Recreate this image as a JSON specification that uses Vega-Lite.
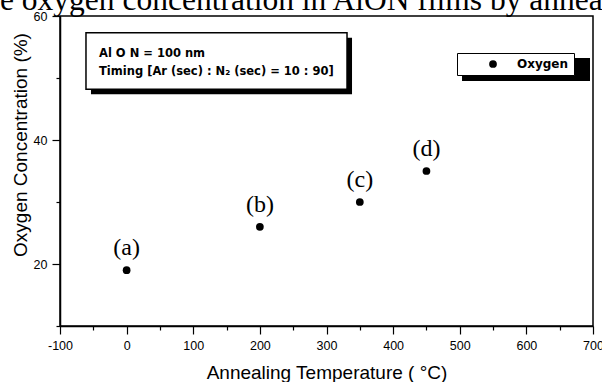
{
  "$schema": "https://vega.github.io/schema/vega-lite/v6.json",
  "width": 533,
  "height": 310,
  "autosize": {"type": "none"},
  "padding": {"left": 60, "top": 16, "right": 9, "bottom": 56},
  "background": "white",
  "title": {
    "text": "e oxygen concentration in AlON films by annea",
    "font": "Liberation Serif",
    "fontSize": 31.5,
    "fontWeight": "normal",
    "color": "black",
    "anchor": "start",
    "frame": "group",
    "dx": -60,
    "baseline": "alphabetic",
    "offset": -31,
    "limit": 2000
  },
  "config": {
    "view": {"stroke": "black", "strokeWidth": 1.5},
    "axis": {
      "labelFont": "Liberation Sans",
      "labelFontSize": 12.5,
      "labelColor": "black",
      "titleFont": "Liberation Sans",
      "titleFontSize": 19,
      "titleFontWeight": "normal",
      "titleColor": "black",
      "domainColor": "black",
      "domainWidth": 1.5,
      "tickColor": "black",
      "tickWidth": 1.2,
      "grid": false,
      "labelFlush": false
    }
  },
  "data": {
    "values": [
      {"temperature": 0, "oxygen": 19, "label": "(a)", "series": "Oxygen"},
      {"temperature": 200, "oxygen": 26, "label": "(b)", "series": "Oxygen"},
      {"temperature": 350, "oxygen": 30, "label": "(c)", "series": "Oxygen"},
      {"temperature": 450, "oxygen": 35, "label": "(d)", "series": "Oxygen"}
    ]
  },
  "layer": [
    {
      "data": {"values": [{}]},
      "mark": {"type": "rect", "fill": "black", "xOffset": 5, "x2Offset": 5, "yOffset": 5, "y2Offset": 5},
      "encoding": {
        "x": {"datum": -61, "type": "quantitative", "axis": null, "scale": {"domain": [-100, 700], "nice": false, "zero": false}},
        "x2": {"datum": 330.8},
        "y": {"datum": 57.31, "type": "quantitative", "axis": null, "scale": {"domain": [10, 60], "nice": false, "zero": false}},
        "y2": {"datum": 48.18}
      }
    },
    {
      "data": {"values": [{}]},
      "mark": {"type": "rect", "fill": "white", "stroke": "black", "strokeWidth": 1.5},
      "encoding": {
        "x": {"datum": -61, "type": "quantitative", "axis": null, "scale": {"domain": [-100, 700], "nice": false, "zero": false}},
        "x2": {"datum": 330.8},
        "y": {"datum": 57.31, "type": "quantitative", "axis": null, "scale": {"domain": [10, 60], "nice": false, "zero": false}},
        "y2": {"datum": 48.18}
      }
    },
    {
      "data": {"values": [{}]},
      "mark": {
        "type": "text",
        "text": ["Al O N = 100 nm", "Timing [Ar (sec) : N₂ (sec) = 10 : 90]"],
        "font": "DejaVu Sans",
        "fontWeight": "bold",
        "fontSize": 11.5,
        "lineHeight": 18,
        "align": "left",
        "baseline": "alphabetic",
        "color": "black"
      },
      "encoding": {
        "x": {"datum": -41.46, "type": "quantitative", "axis": null, "scale": {"domain": [-100, 700], "nice": false, "zero": false}},
        "y": {"datum": 53.39, "type": "quantitative", "axis": null, "scale": {"domain": [10, 60], "nice": false, "zero": false}}
      }
    },
    {
      "data": {"values": [{}]},
      "mark": {"type": "rect", "fill": "black", "xOffset": 5, "x2Offset": 5, "yOffset": 5, "y2Offset": 5},
      "encoding": {
        "x": {"datum": 495.9, "type": "quantitative", "axis": null, "scale": {"domain": [-100, 700], "nice": false, "zero": false}},
        "x2": {"datum": 688},
        "y": {"datum": 54.03, "type": "quantitative", "axis": null, "scale": {"domain": [10, 60], "nice": false, "zero": false}},
        "y2": {"datum": 50.32}
      }
    },
    {
      "mark": {"type": "point", "filled": true, "size": 60, "opacity": 1},
      "encoding": {
        "x": {
          "field": "temperature",
          "type": "quantitative",
          "scale": {"domain": [-100, 700], "nice": false, "zero": false},
          "axis": {
            "orient": "bottom",
            "values": [-100, 0, 100, 200, 300, 400, 500, 600, 700],
            "labelExpr": "datum.value + ''",
            "tickSize": 8,
            "labelPadding": 5,
            "title": "Annealing Temperature ( °C)",
            "titlePadding": 12
          }
        },
        "y": {
          "field": "oxygen",
          "type": "quantitative",
          "scale": {"domain": [10, 60], "nice": false, "zero": false},
          "axis": {
            "orient": "left",
            "values": [20, 40, 60],
            "tickSize": 8,
            "labelPadding": 5,
            "title": "Oxygen Concentration (%)",
            "titlePadding": 3,
            "titleY": 128.5
          }
        },
        "color": {
          "field": "series",
          "type": "nominal",
          "scale": {"range": ["black"]},
          "legend": {
            "orient": "none",
            "legendX": 397,
            "legendY": 37,
            "title": null,
            "fillColor": "white",
            "strokeColor": "black",
            "padding": 5,
            "symbolType": "circle",
            "symbolSize": 60,
            "symbolFillColor": "black",
            "symbolStrokeWidth": 0,
            "symbolOffset": 25,
            "labelOffset": 18,
            "labelFont": "DejaVu Sans",
            "labelFontWeight": "bold",
            "labelFontSize": 12,
            "labelColor": "black",
            "labelExpr": "datum.label + '    '",
            "encode": {"legend": {"update": {"strokeWidth": {"value": 1.5}}}}
          }
        }
      }
    },
    {
      "mark": {"type": "text", "font": "Liberation Serif", "fontSize": 24, "dy": -15, "baseline": "alphabetic", "align": "center", "color": "black"},
      "encoding": {
        "x": {
          "field": "temperature",
          "type": "quantitative",
          "scale": {"domain": [-100, 700], "nice": false, "zero": false},
          "axis": {
            "orient": "bottom",
            "values": [-50, 50, 150, 250, 350, 450, 550, 650],
            "labels": false,
            "tickSize": 4,
            "domain": false,
            "title": null
          }
        },
        "y": {
          "field": "oxygen",
          "type": "quantitative",
          "scale": {"domain": [10, 60], "nice": false, "zero": false},
          "axis": {
            "orient": "left",
            "values": [10, 30, 50],
            "labels": false,
            "tickSize": 4,
            "domain": false,
            "title": null
          }
        },
        "text": {"field": "label"}
      }
    }
  ],
  "resolve": {"axis": {"x": "independent", "y": "independent"}}
}
